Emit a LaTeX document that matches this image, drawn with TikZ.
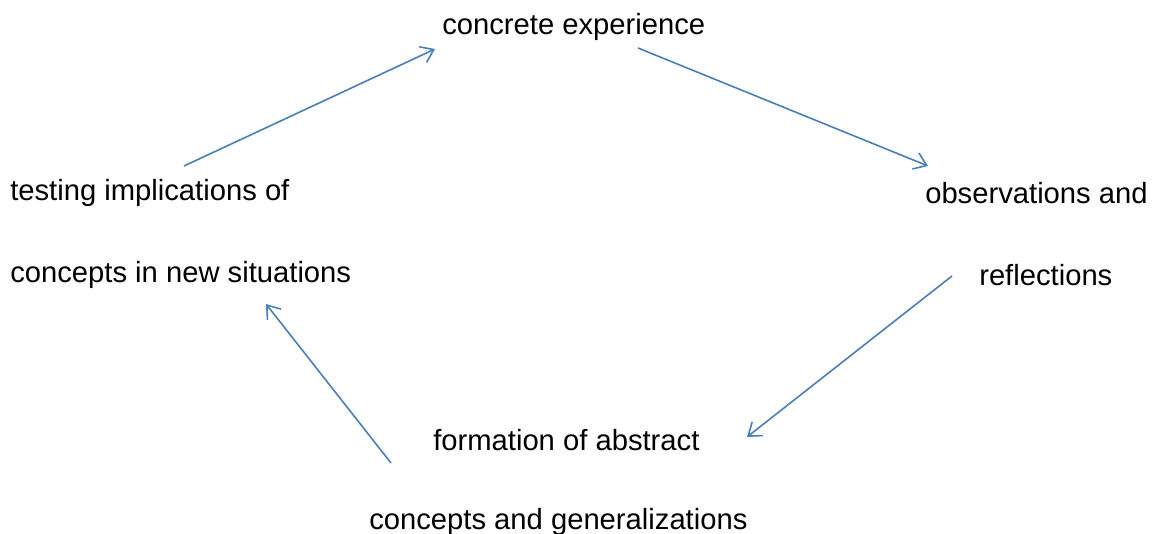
\documentclass[tikz,border=0pt]{standalone}
\usepackage{fontspec}
\setmainfont{Liberation Sans}
\usepackage{tikz}
\usetikzlibrary{arrows.meta}
\definecolor{cycleblue}{HTML}{4A7EBB}

\begin{document}
\begin{tikzpicture}[x=0.75pt, y=-0.75pt,
    font = \fontsize{21.9}{26}\selectfont,
    stage/.style = {inner sep = 0pt, anchor = west},
    flow/.style = {cycleblue, line width = 1.2pt,
      -{Straight Barb[length = 9pt, width = 13pt, line width = 1.2pt]}}]
  \useasboundingbox (0,0) rectangle (1156,534);
  % stages of the cycle
  \node[stage] (exp) at (442,27) {concrete experience};
  \node[stage] (obs1) at (925,193) {observations and};
  \node[stage] (obs2) at (979,275) {reflections};
  \node[stage] (abs1) at (433,440) {formation of abstract};
  \node[stage] (abs2) at (369,522) {concepts and generalizations};
  \node[stage] (tst1) at (10,193) {testing implications of};
  \node[stage] (tst2) at (10,275) {concepts in new situations};
  % arrow ends
  \coordinate (e1) at (184,166);
  \coordinate (e2) at (435,49);
  \coordinate (o1) at (638,48);
  \coordinate (o2) at (928,166);
  \coordinate (a1) at (952,276);
  \coordinate (a2) at (747,437);
  \coordinate (t1) at (391,463);
  \coordinate (t2) at (266,304);
  \begin{scope}
    \draw[flow] (e1) -- (e2);
    \draw[flow] (o1) -- (o2);
    \draw[flow] (a1) -- (a2);
    \draw[flow] (t1) -- (t2);
  \end{scope}
\end{tikzpicture}
\end{document}
